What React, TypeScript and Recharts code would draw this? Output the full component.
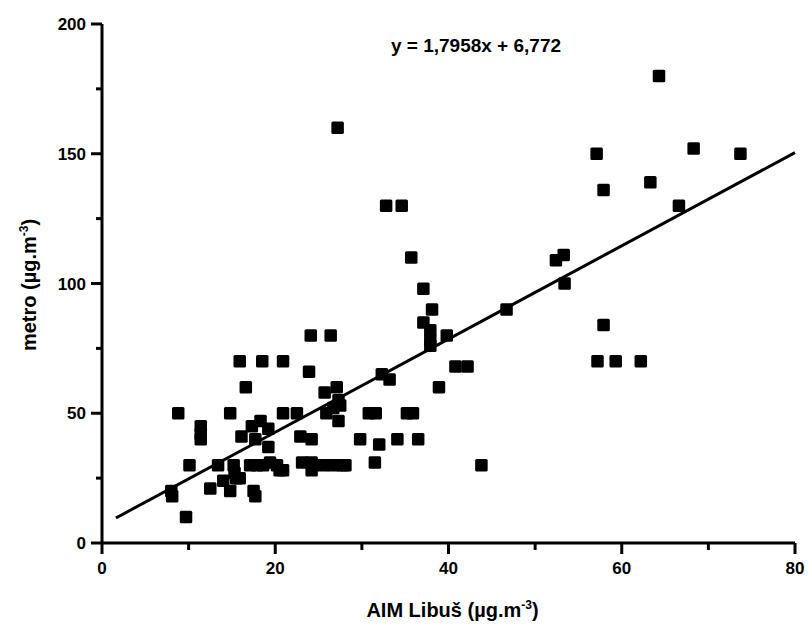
import React from "react";
import {
  ScatterChart,
  Scatter,
  XAxis,
  YAxis,
  ReferenceLine,
  Label,
} from "recharts";

const xValues = [
  8.0, 8.1, 8.8, 9.7, 10.1, 11.4, 11.4, 11.4, 12.5, 13.4, 14.0, 14.8, 14.8, 15.2, 15.3, 15.5, 15.9, 15.9,
  16.1, 16.6, 17.1, 17.3, 17.5, 17.7, 17.7, 17.9, 18.3, 18.5, 18.6, 19.2, 19.2, 19.4, 20.2, 20.5, 20.9,
  20.9, 20.9, 22.5, 22.9, 23.1, 23.9, 24.1, 24.2, 24.2, 24.2, 25.5, 25.7, 25.9, 26.4, 26.7, 26.7, 27.1,
  27.2, 27.3, 27.3, 27.5, 27.8, 28.1, 29.8, 30.8, 31.5, 31.6, 32.0, 32.3, 32.8, 33.2, 34.1, 34.6, 35.2,
  35.7, 35.9, 36.5, 37.1, 37.1, 37.9, 37.9, 37.9, 38.1, 38.9, 39.8, 40.8, 42.2, 43.8, 46.7, 52.4, 53.3,
  53.4, 57.1, 57.2, 57.9, 57.9, 59.3, 62.2, 63.3, 64.3, 66.6, 68.3, 73.7,
];
const yValues = [
  20, 18, 50, 10, 30, 45, 42, 40, 21, 30, 24, 20, 50, 30, 27, 25, 25, 70,
  41, 60, 30, 45, 20, 18, 40, 30, 47, 70, 30, 44, 37, 31, 30, 28, 50,
  70, 28, 50, 41, 31, 66, 80, 40, 31, 28, 30, 58, 50, 80, 52, 30, 60,
  160, 55, 47, 53, 30, 30, 40, 50, 31, 50, 38, 65, 130, 63, 40, 130, 50,
  110, 50, 40, 85, 98, 82, 78, 76, 90, 60, 80, 68, 68, 30, 90, 109, 111,
  100, 150, 70, 136, 84, 70, 70, 139, 180, 130, 152, 150,
];

const slope = 1.7958;
const intercept = 6.772;
const lineStartX = 1.6;
const lineEndX = 80;

const xTicks = [0, 10, 20, 30, 40, 50, 60, 70, 80];
const xMajor = [0, 20, 40, 60, 80];
const yTicks = [0, 25, 50, 75, 100, 125, 150, 175, 200];
const yMajor = [0, 50, 100, 150, 200];

const equationText = "y = 1,7958x + 6,772";

const data = xValues.map((x, i) => ({ x, y: yValues[i] }));

const FONT = "'Liberation Sans', Arial, sans-serif";
const TICK_COLOR = "#000";

const XTick = (props: any) => {
  const { x, y, payload } = props;
  const major = xMajor.includes(payload.value);
  const len = major ? 11 : 7;
  return (
    <g>
      <path d={`M${x},${y}L${x},${y + len}`} stroke={TICK_COLOR} strokeWidth={3} fill="none" />
      {major && (
        <text x={x} y={y + 31} textAnchor="middle" fontFamily={FONT} fontWeight="bold" fontSize={17} fill="#000">
          {payload.value}
        </text>
      )}
    </g>
  );
};

const YTick = (props: any) => {
  const { x, y, payload } = props;
  const major = yMajor.includes(payload.value);
  const len = major ? 11 : 6;
  return (
    <g>
      <path d={`M${x},${y}L${x - len},${y}`} stroke={TICK_COLOR} strokeWidth={3} fill="none" />
      {major && (
        <text x={x - 16} y={y + 6} textAnchor="end" fontFamily={FONT} fontWeight="bold" fontSize={17} fill="#000">
          {payload.value}
        </text>
      )}
    </g>
  );
};

const SquareShape = (props: any) => {
  const { cx, cy } = props;
  const s = 12.5;
  return <rect x={cx - s / 2} y={cy - s / 2} width={s} height={s} rx={1.5} fill="#000" />;
};

const XTitle = (props: any) => {
  const { viewBox } = props;
  const cx = viewBox.x + viewBox.width / 2;
  return (
    <text x={cx + 4} y={617} textAnchor="middle" fontFamily={FONT} fontWeight="bold" fontSize={20} fill="#000">
      AIM Libuš (µg.m
      <tspan dy={-8} fontSize={12}>-3</tspan>
      <tspan dy={8}>)</tspan>
    </text>
  );
};

const YTitle = () => {
  const cx = 36;
  const cy = 285;
  return (
    <text
      x={cx}
      y={cy}
      transform={`rotate(-90, ${cx}, ${cy})`}
      textAnchor="middle"
      fontFamily={FONT}
      fontWeight="bold"
      fontSize={20}
      fill="#000"
    >
      metro (µg.m
      <tspan dy={-8} fontSize={12}>-3</tspan>
      <tspan dy={8}>)</tspan>
    </text>
  );
};

export default function App() {
  return (
    <div style={{ position: "absolute", left: 0, top: 0, width: 809, height: 626, background: "#fff" }}>
      <ScatterChart width={809} height={626} margin={{ top: 24, right: 14, bottom: 0, left: 0 }}>
        <XAxis
          type="number"
          dataKey="x"
          domain={[0, 80]}
          ticks={xTicks}
          interval={0}
          height={83}
          tickSize={0}
          tickMargin={0}
          tickLine={false}
          axisLine={{ stroke: "#000", strokeWidth: 3 }}
          tick={<XTick />}
        >
          <Label content={<XTitle />} />
        </XAxis>
        <YAxis
          type="number"
          dataKey="y"
          domain={[0, 200]}
          ticks={yTicks}
          interval={0}
          width={102}
          tickSize={0}
          tickMargin={0}
          tickLine={false}
          axisLine={{ stroke: "#000", strokeWidth: 3 }}
          tick={<YTick />}
        >
          <Label content={<YTitle />} />
        </YAxis>
        <ReferenceLine
          segment={[
            { x: lineStartX, y: slope * lineStartX + intercept },
            { x: lineEndX, y: slope * lineEndX + intercept },
          ]}
          stroke="#000"
          strokeWidth={3}
          ifOverflow="visible"
        />
        <Scatter data={data} shape={<SquareShape />} isAnimationActive={false} />
        <text x={476} y={52} textAnchor="middle" fontFamily={FONT} fontWeight="bold" fontSize={19} fill="#000">
          {equationText}
        </text>
      </ScatterChart>
    </div>
  );
}
